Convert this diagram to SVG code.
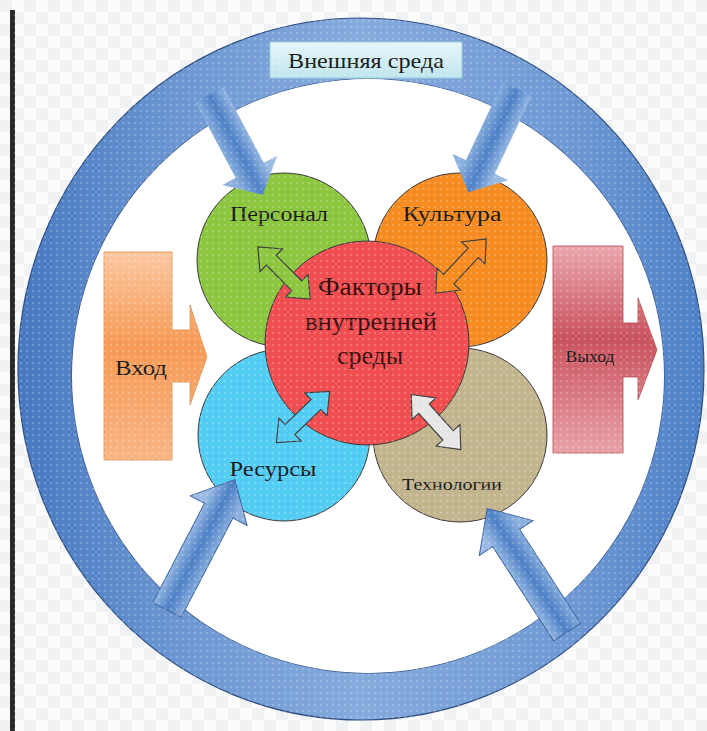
<svg xmlns="http://www.w3.org/2000/svg" xmlns:xlink="http://www.w3.org/1999/xlink" width="707" height="731" viewBox="0 0 707 731">
  <defs>
    <pattern id="checker" width="24" height="24" patternUnits="userSpaceOnUse">
      <rect width="24" height="24" fill="#fbfbfc"/>
      <rect width="12" height="12" fill="#eff1f3"/>
      <rect x="12" y="12" width="12" height="12" fill="#eff1f3"/>
    </pattern>
    <pattern id="dots" width="6" height="6" patternUnits="userSpaceOnUse">
      <circle cx="3" cy="3" r="1.3" fill="#ffffff"/>
    </pattern>
    <linearGradient id="ringGrad" x1="0" y1="0" x2="1" y2="0">
      <stop offset="0" stop-color="#4678c0"/>
      <stop offset="0.25" stop-color="#6e98d3"/>
      <stop offset="0.5" stop-color="#85abdd"/>
      <stop offset="0.8" stop-color="#6f99d4"/>
      <stop offset="1" stop-color="#4d80c6"/>
    </linearGradient>
    <linearGradient id="boxGrad" x1="0" y1="0" x2="0" y2="1">
      <stop offset="0" stop-color="#e6f6f9"/>
      <stop offset="1" stop-color="#bfe5ee"/>
    </linearGradient>
    <linearGradient id="bigArrowGrad" gradientUnits="userSpaceOnUse" x1="0" y1="-18" x2="0" y2="18">
      <stop offset="0" stop-color="#9bbbe5"/>
      <stop offset="0.5" stop-color="#4d80c5"/>
      <stop offset="1" stop-color="#8db1df"/>
    </linearGradient>
    <linearGradient id="inGrad" x1="0" y1="0" x2="0" y2="1">
      <stop offset="0" stop-color="#fbc7a0"/>
      <stop offset="0.45" stop-color="#f69a55"/>
      <stop offset="1" stop-color="#f9b585"/>
    </linearGradient>
    <linearGradient id="outGrad" x1="0" y1="0" x2="0" y2="1">
      <stop offset="0" stop-color="#eaa6ad"/>
      <stop offset="0.45" stop-color="#c9525d"/>
      <stop offset="1" stop-color="#e8a1a8"/>
    </linearGradient>
    <polygon id="bigShort" points="-12,-16 74,-16 74,-31 102,0 74,31 74,16 -12,16"/>
    <polygon id="bigLong" points="0,-16 112,-16 112,-32 147,0 112,32 112,16 0,16"/>
    <polygon id="dbl" points="-37,0 -18,-16 -18,-7 18,-7 18,-16 37,0 18,16 18,7 -18,7 -18,16"/>
    <style>
      .lbl { font-family: "Liberation Serif", "Times New Roman", serif; fill: #1a1a1a; text-anchor: middle; }
      .inner { fill: #3a0e0e; }
      .circ { stroke: #3a3a3a; stroke-width: 1; }
      .big { fill: url(#bigArrowGrad); stroke: #3d669f; stroke-width: 1; }
      .bigTop { fill: url(#bigArrowGrad); stroke: none; }
      .dblA { stroke: #404040; stroke-width: 1.2; stroke-linejoin: miter; }
    </style>
  </defs>

  <rect width="707" height="731" fill="url(#checker)"/>
  <rect x="10" y="10" width="5" height="721" fill="#2a2a2a"/>

  <g id="external-environment">
    <path d="M 18 369 A 343 351 0 1 0 704 369 A 343 351 0 1 0 18 369 Z M 72 376 A 296 297 0 1 0 664 376 A 296 297 0 1 0 72 376 Z" fill="url(#ringGrad)" fill-rule="evenodd" stroke="#2f4f80" stroke-width="1.2"/>
    <path d="M 72 376 A 296 297 0 1 0 664 376 A 296 297 0 1 0 72 376 Z" fill="#ffffff"/>
  </g>

  <g id="label-external">
    <rect x="270" y="42" width="192" height="36" fill="url(#boxGrad)" stroke="#9fcfdb" stroke-width="1"/>
    <text class="lbl" x="366" y="68" font-size="21" textLength="156" lengthAdjust="spacingAndGlyphs">Внешняя среда</text>
  </g>

  <g id="input">
    <path d="M 104 252 L 172 252 L 172 330 L 190 330 L 190 305 L 207 357 L 190 405 L 190 382 L 172 382 L 172 460 L 104 460 Z" fill="url(#inGrad)" stroke="#e58a45" stroke-width="0.8"/>
    <text class="lbl" x="141" y="375" font-size="20" textLength="52" lengthAdjust="spacingAndGlyphs">Вход</text>
  </g>

  <g id="output">
    <path d="M 553 246 L 623 246 L 623 323 L 638 323 L 638 298 L 657 350 L 638 400 L 638 377 L 623 377 L 623 453 L 553 453 Z" fill="url(#outGrad)" stroke="#b5474f" stroke-width="0.8"/>
    <text class="lbl" x="590" y="362" font-size="16" textLength="49" lengthAdjust="spacingAndGlyphs">Выход</text>
  </g>

  <g id="personnel">
    <circle class="circ" cx="284" cy="260" r="87" fill="#8cc63f"/>
    <text class="lbl" x="279" y="221" font-size="20" textLength="98" lengthAdjust="spacingAndGlyphs">Персонал</text>
  </g>
  <g id="culture">
    <circle class="circ" cx="460" cy="260" r="87" fill="#f68b21"/>
    <text class="lbl" x="452" y="221" font-size="20" textLength="99" lengthAdjust="spacingAndGlyphs">Культура</text>
  </g>
  <g id="resources">
    <circle class="circ" cx="284" cy="435" r="86" fill="#52ccf3"/>
    <text class="lbl" x="273" y="476" font-size="20" textLength="87" lengthAdjust="spacingAndGlyphs">Ресурсы</text>
  </g>
  <g id="technologies">
    <circle class="circ" cx="460" cy="435" r="87" fill="#c2b48c"/>
    <text class="lbl" x="452" y="490" font-size="17" textLength="100" lengthAdjust="spacingAndGlyphs">Технологии</text>
  </g>
  <g id="internal-factors">
    <circle class="circ" cx="367" cy="343" r="102" fill="#f04d50"/>
    <text class="lbl inner" x="370" y="295" font-size="25" textLength="104" lengthAdjust="spacingAndGlyphs">Факторы</text>
    <text class="lbl inner" x="371" y="330" font-size="25" textLength="132" lengthAdjust="spacingAndGlyphs">внутренней</text>
    <text class="lbl inner" x="370" y="364" font-size="25" textLength="66" lengthAdjust="spacingAndGlyphs">среды</text>
  </g>

  <g id="connectors">
    <use xlink:href="#bigShort" class="bigTop" transform="translate(215,105) rotate(62)"/>
    <use xlink:href="#bigShort" class="bigTop" transform="translate(512,100) rotate(115.3)"/>
    <use xlink:href="#bigLong" class="big" transform="translate(167,610) rotate(-62.5)"/>
    <use xlink:href="#bigLong" class="big" transform="translate(567,632) rotate(-122.9)"/>
    <use xlink:href="#dbl" class="dblA" fill="#8cc63f" transform="translate(284,273) rotate(45)"/>
    <use xlink:href="#dbl" class="dblA" fill="#f68b21" transform="translate(461,266) rotate(-47)"/>
    <use xlink:href="#dbl" class="dblA" fill="#52ccf3" transform="translate(303,417) rotate(-44)"/>
    <use xlink:href="#dbl" class="dblA" fill="#e6e6e6" transform="translate(436,422) rotate(48)"/>
  </g>

  <rect width="707" height="731" fill="url(#dots)" opacity="0.2" pointer-events="none"/>
</svg>
